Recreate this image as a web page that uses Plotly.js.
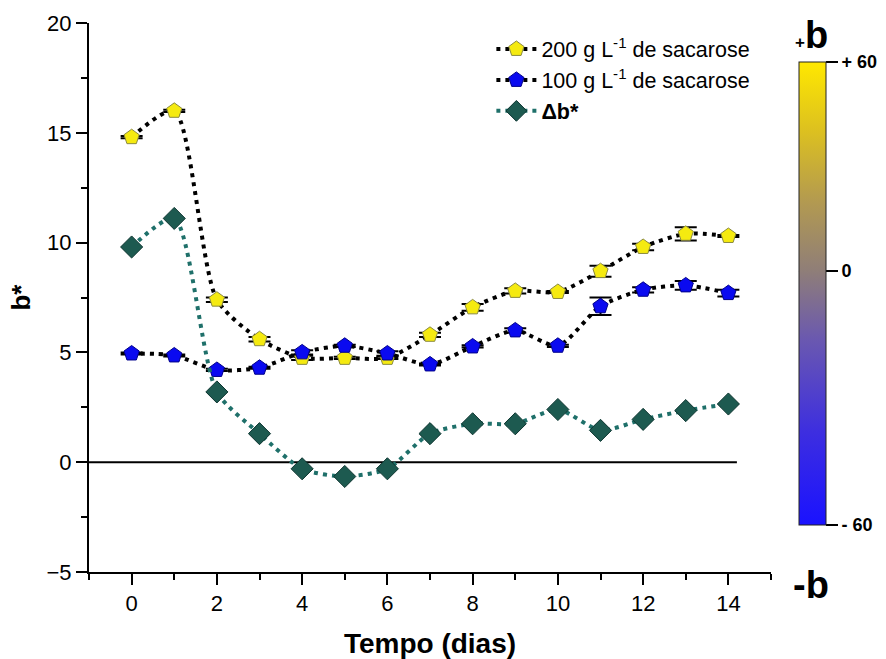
<!DOCTYPE html>
<html>
<head>
<meta charset="utf-8">
<script src="https://cdn.plot.ly/plotly-3.0.1.min.js"></script>
<style>html,body{margin:0;padding:0;background:#fff;}#chart{width:886px;height:659px;}</style>
</head>
<body>
<div id="chart"></div>
<script>
// ---- data ----
const days = [0,1,2,3,4,5,6,7,8,9,10,11,12,13,14];
const b200 = [14.8,16.0,7.4,5.6,4.75,4.75,4.75,5.8,7.05,7.8,7.75,8.7,9.8,10.4,10.3];
const b200Err = [0.05,0.05,0.1,0.1,0.1,0.05,0.05,0.1,0.15,0.12,0.05,0.25,0.15,0.3,0.05];
const b100 = [4.95,4.86,4.2,4.3,5.0,5.3,4.95,4.45,5.27,6.0,5.3,7.1,7.85,8.05,7.7];
const b100Err = [0.05,0.05,0.05,0.05,0.1,0.05,0.1,0.05,0.05,0.1,0.05,0.4,0.12,0.2,0.15];
const deltaB = [9.8,11.1,3.2,1.3,-0.3,-0.65,-0.3,1.3,1.75,1.75,2.4,1.45,1.95,2.35,2.65];
const seriesNames = ['200 g L<sup>-1</sup> de sacarose','100 g L<sup>-1</sup> de sacarose','<b>Δb*</b>'];
const xTickVals = [0,2,4,6,8,10,12,14];
const yTickVals = [-5,0,5,10,15,20];
const zeroLineX = [-1, 14.2];
const cbMin = -60, cbMax = 49.37;
const cbTickVals = [-60, 0, 49.37];
const cbTickText = ['- 60', '0', '+ 60'];

const FONT = 'Arial, "Liberation Sans", sans-serif';

const traces = [
  {
    x: days, y: b200, name: seriesNames[0], type: 'scatter', mode: 'lines+markers',
    line: {color: '#000', width: 4, dash: '4px,5px', shape: 'spline', smoothing: 0.7},
    marker: {symbol: 'pentagon', size: 16, color: '#f5ea10', line: {color: '#8a8a40', width: 1}},
    error_y: {type: 'data', array: b200Err, visible: true, color: '#000', thickness: 2, width: 11}
  },
  {
    x: days, y: b100, name: seriesNames[1], type: 'scatter', mode: 'lines+markers',
    line: {color: '#000', width: 4, dash: '4px,5px', shape: 'spline', smoothing: 0.7},
    marker: {symbol: 'pentagon', size: 16, color: '#0a0af0', line: {color: '#00008a', width: 1}},
    error_y: {type: 'data', array: b100Err, visible: true, color: '#000', thickness: 2, width: 11}
  },
  {
    x: days, y: deltaB, name: seriesNames[2], type: 'scatter', mode: 'lines+markers',
    line: {color: '#1f706a', width: 4, dash: '4px,5px', shape: 'spline', smoothing: 0.7},
    marker: {symbol: 'diamond', size: 17, color: '#1d5a50', line: {color: '#0d3530', width: 1}}
  },
  {
    x: [null, null], y: [null, null], type: 'scatter', mode: 'markers', showlegend: false, hoverinfo: 'skip',
    marker: {
      color: [cbMin, cbMax], cmin: cbMin, cmax: cbMax, showscale: true,
      colorscale: [[0,'#1a12ff'],[0.2,'#3d2ee0'],[0.4,'#6a58b0'],[0.549,'#8f7e78'],[0.7,'#b39a50'],[0.85,'#dcc020'],[1,'#ffe800']],
      colorbar: {
        x: 1.041, xanchor: 'left', xpad: 0, y: 0.5073, yanchor: 'middle', ypad: 0,
        thickness: 27, thicknessmode: 'pixels', len: 463, lenmode: 'pixels',
        outlinewidth: 1, outlinecolor: '#222',
        tickvals: cbTickVals, ticktext: cbTickText, ticks: 'outside', ticklen: 12, tickwidth: 1.5, tickcolor: '#000',
        tickfont: {family: FONT, size: 18, color: '#000', weight: 'bold'}
      }
    }
  }
];

const layout = {
  width: 886, height: 659,
  margin: {l: 89, r: 115, t: 23, b: 87, autoexpand: false},
  paper_bgcolor: '#fff', plot_bgcolor: '#fff',
  font: {family: FONT, color: '#000'},
  showlegend: true,
  legend: {
    x: 0.59, y: 0.99, xanchor: 'left', yanchor: 'top',
    bgcolor: 'rgba(0,0,0,0)', font: {family: FONT, size: 21.5, color: '#000'},
    itemwidth: 40, tracegroupgap: 0
  },
  xaxis: {
    range: [-1, 15], tickvals: xTickVals, ticks: 'outside', ticklen: 11, tickwidth: 2, tickcolor: '#000',
    minor: {dtick: 1, tick0: 0, ticks: 'outside', ticklen: 6, tickwidth: 2, tickcolor: '#000'},
    showline: true, linecolor: '#000', linewidth: 2, showgrid: false, zeroline: false,
    tickfont: {family: FONT, size: 22, color: '#000'},
    title: {text: '<b>Tempo (dias)</b>', font: {family: FONT, size: 28, color: '#000'}, standoff: 18}
  },
  yaxis: {
    range: [-5, 20], tickvals: yTickVals, ticks: 'outside', ticklen: 11, tickwidth: 2, tickcolor: '#000',
    minor: {dtick: 2.5, tick0: 0, ticks: 'outside', ticklen: 6, tickwidth: 2, tickcolor: '#000'},
    showline: true, linecolor: '#000', linewidth: 2, showgrid: false, zeroline: false,
    tickfont: {family: FONT, size: 22, color: '#000'},
    title: {text: '<b>b*</b>', font: {family: FONT, size: 26, color: '#000'}, standoff: 8}
  },
  shapes: [
    {type: 'line', xref: 'x', yref: 'y', x0: zeroLineX[0], x1: zeroLineX[1], y0: 0, y1: 0, line: {color: '#000', width: 2}, layer: 'below'},
    {type: 'line', xref: 'paper', yref: 'paper', x0: 1.041, x1: 1.098, y0: 0.548, y1: 0.548, line: {color: '#000', width: 1.5}}
  ],
  annotations: [
    {xref: 'paper', yref: 'paper', x: 1.060, y: 0.978, xanchor: 'center', yanchor: 'middle', showarrow: false,
     text: '<span style="font-size:17px">+</span>b', font: {family: FONT, size: 38, color: '#000', weight: 'bold'}},
    {xref: 'paper', yref: 'paper', x: 1.058, y: -0.024, xanchor: 'center', yanchor: 'middle', showarrow: false,
     text: '-b', font: {family: FONT, size: 38, color: '#000', weight: 'bold'}}
  ]
};

Plotly.newPlot('chart', traces, layout, {displayModeBar: false, staticPlot: true});
</script>
</body>
</html>
